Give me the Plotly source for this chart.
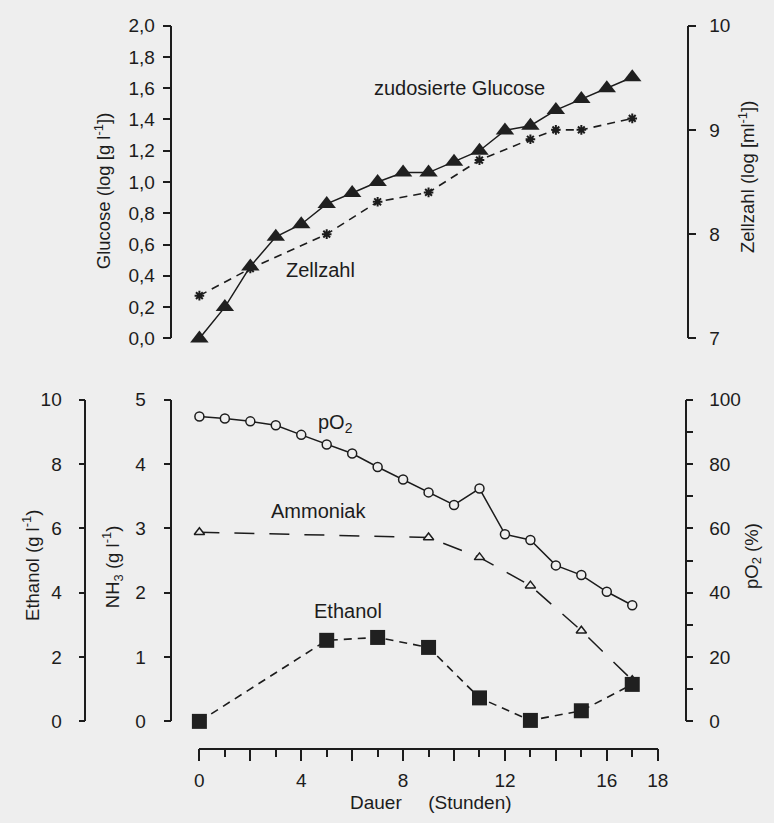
import plotly.graph_objects as go

# ---- data -------------------------------------------------------------
# zudosierte Glucose (log g/l), hourly samples
glucose_hours = list(range(18))
glucose = [0.00, 0.20, 0.46, 0.65, 0.73, 0.86, 0.93, 1.00, 1.06, 1.06,
           1.13, 1.20, 1.33, 1.36, 1.46, 1.53, 1.60, 1.67]

# Zellzahl (log /ml)
cell_hours = [0, 2, 5, 7, 9, 11, 13, 14, 15, 17]
cells = [7.41, 7.67, 8.00, 8.31, 8.40, 8.71, 8.91, 9.00, 9.00, 9.11]

# pO2 (%)
po2_hours = list(range(18))
po2 = [94.8, 94.2, 93.3, 92.1, 89.1, 86.1, 83.3, 79.1, 75.2, 71.2,
       67.3, 72.4, 58.2, 56.4, 48.5, 45.5, 40.3, 36.1]

# Ammoniak NH3 (g/l)
nh3_hours = [0, 9, 11, 13, 15, 17]
nh3 = [2.94, 2.86, 2.55, 2.11, 1.41, 0.64]

# Ethanol (g/l)
ethanol_hours = [0, 5, 7, 9, 11, 13, 15, 17]
ethanol = [0.00, 2.52, 2.61, 2.30, 0.73, 0.03, 0.33, 1.15]

# tick labels
x_ticks = list(range(0, 19, 2))
x_ticktext = ["0", "", "4", "", "8", "", "12", "", "16", "18"]
glc_ticks = [i / 5 for i in range(11)]
glc_ticktext = ["0,0", "0,2", "0,4", "0,6", "0,8", "1,0",
                "1,2", "1,4", "1,6", "1,8", "2,0"]

# ---- layout helpers (pixel -> paper) ----------------------------------
W, H = 774, 823
BG = "#eeeeee"
INK = "#1c1c1c"
FONT = "Liberation Sans, Arial, sans-serif"
TICK_SIZE = 19


def fx(px):
    return px / W


def fy(py):
    return 1 - py / H


top_dom = [fy(337), fy(16)]
bot_dom = [fy(730), fy(400)]

axis_common = dict(
    showline=True, linecolor=INK, linewidth=1.5,
    ticks="outside", tickcolor=INK, tickwidth=1.5,
    showgrid=False, zeroline=False,
    tickfont=dict(family=FONT, size=TICK_SIZE, color=INK),
    fixedrange=True,
)

fig = go.Figure()

# top panel: cell count underneath, glucose triangles on top
fig.add_trace(go.Scatter(
    x=cell_hours, y=cells, xaxis="x", yaxis="y",
    mode="lines+markers", cliponaxis=False,
    line=dict(color=INK, width=1.6, dash="8px,6px"),
    marker=dict(symbol="asterisk-open", size=8,
                line=dict(color=INK, width=2)),
))
fig.add_trace(go.Scatter(
    x=glucose_hours, y=glucose, xaxis="x", yaxis="y2",
    mode="lines+markers", cliponaxis=False,
    line=dict(color=INK, width=1.5),
    marker=dict(symbol="triangle-up", size=16, color="#202020"),
))

# bottom panel
fig.add_trace(go.Scatter(
    x=nh3_hours, y=nh3, xaxis="x", yaxis="y3",
    mode="lines+markers", cliponaxis=False,
    line=dict(color=INK, width=1.5, dash="20px,15px"),
    marker=dict(symbol="triangle-up", size=9, color=BG,
                line=dict(color=INK, width=1.5)),
))
fig.add_trace(go.Scatter(
    x=ethanol_hours, y=ethanol, xaxis="x", yaxis="y4",
    mode="lines+markers", cliponaxis=False,
    line=dict(color=INK, width=1.6, dash="8px,6px"),
    marker=dict(symbol="square", size=15, color="#202020"),
))
fig.add_trace(go.Scatter(
    x=po2_hours, y=po2, xaxis="x", yaxis="y5",
    mode="lines+markers", cliponaxis=False,
    line=dict(color=INK, width=1.5),
    marker=dict(symbol="circle", size=9, color=BG,
                line=dict(color=INK, width=1.5)),
))

fig.update_layout(
    width=W, height=H,
    margin=dict(l=0, r=0, t=0, b=0),
    paper_bgcolor=BG, plot_bgcolor="rgba(0,0,0,0)",
    showlegend=False,
    font=dict(family=FONT, color=INK),
    xaxis=dict(
        axis_common, domain=[fx(198.5), fx(666.5)], range=[0, 18],
        anchor="free", position=fy(758), side="bottom",
        tickvals=x_ticks, ticktext=x_ticktext, ticklen=12,
        ticklabelstandoff=3,
        minor=dict(dtick=1, tick0=0, ticks="outside", ticklen=8,
                   tickcolor=INK, tickwidth=1.5),
    ),
    # Zellzahl (right)
    yaxis=dict(
        axis_common, domain=top_dom, range=[7, 10],
        anchor="free", position=fx(697), side="right",
        tickvals=[7, 8, 9, 10], ticklen=8, ticklabelstandoff=9,
    ),
    # Glucose (left)
    yaxis2=dict(
        axis_common, domain=top_dom, range=[0, 2],
        anchor="free", position=fx(170), side="left", overlaying="y",
        tickvals=glc_ticks, ticktext=glc_ticktext, ticklen=8,
        ticklabelstandoff=4,
    ),
    # NH3 (inner left)
    yaxis3=dict(
        axis_common, domain=bot_dom, range=[0, 5],
        anchor="free", position=fx(170), side="left",
        tickvals=[0, 1, 2, 3, 4, 5], ticklen=7, ticklabelstandoff=14,
    ),
    # Ethanol (outer left)
    yaxis4=dict(
        axis_common, domain=bot_dom, range=[0, 10],
        anchor="free", position=fx(82), side="left", overlaying="y3",
        tickvals=[0, 2, 4, 6, 8, 10], ticklen=6, ticklabelstandoff=13,
    ),
    # pO2 (right)
    yaxis5=dict(
        axis_common, domain=bot_dom, range=[0, 100],
        anchor="free", position=fx(695), side="right", overlaying="y3",
        tickvals=[0, 20, 40, 60, 80, 100], ticklen=7, ticklabelstandoff=12,
        minor=dict(dtick=10, tick0=0, ticks="outside", ticklen=7,
                   tickcolor=INK, tickwidth=1.5),
    ),
)


def label(text, px, py, size=20, angle=0):
    fig.add_annotation(
        text=text, xref="paper", yref="paper", x=fx(px), y=fy(py),
        xanchor="center", yanchor="middle", showarrow=False,
        textangle=angle, font=dict(family=FONT, size=size, color=INK),
    )


# series labels
label("zudosierte Glucose", 464, 80)
label("Zellzahl", 322, 267)
label("pO<sub>2</sub>", 337, 424)
label("Ammoniak", 320, 514)
label("Ethanol", 350, 617)

# axis titles
label("Glucose (log [g l<sup>-1</sup>])", 100, 185, size=18.5, angle=-90)
label("Zellzahl (log [ml<sup>-1</sup>])", 757, 171, size=18.5, angle=-90)
label("Ethanol (g l<sup>-1</sup>)", 27, 570, size=18.5, angle=-90)
label("NH<sub>3</sub> (g l<sup>-1</sup>)", 110, 572, size=18.5, angle=-90)
label("pO<sub>2</sub> (%)", 763, 560, size=18.5, angle=-90)
label("Dauer" + "\u00a0" * 5 + "(Stunden)", 435, 813, size=19)

fig.write_html("out.html")
